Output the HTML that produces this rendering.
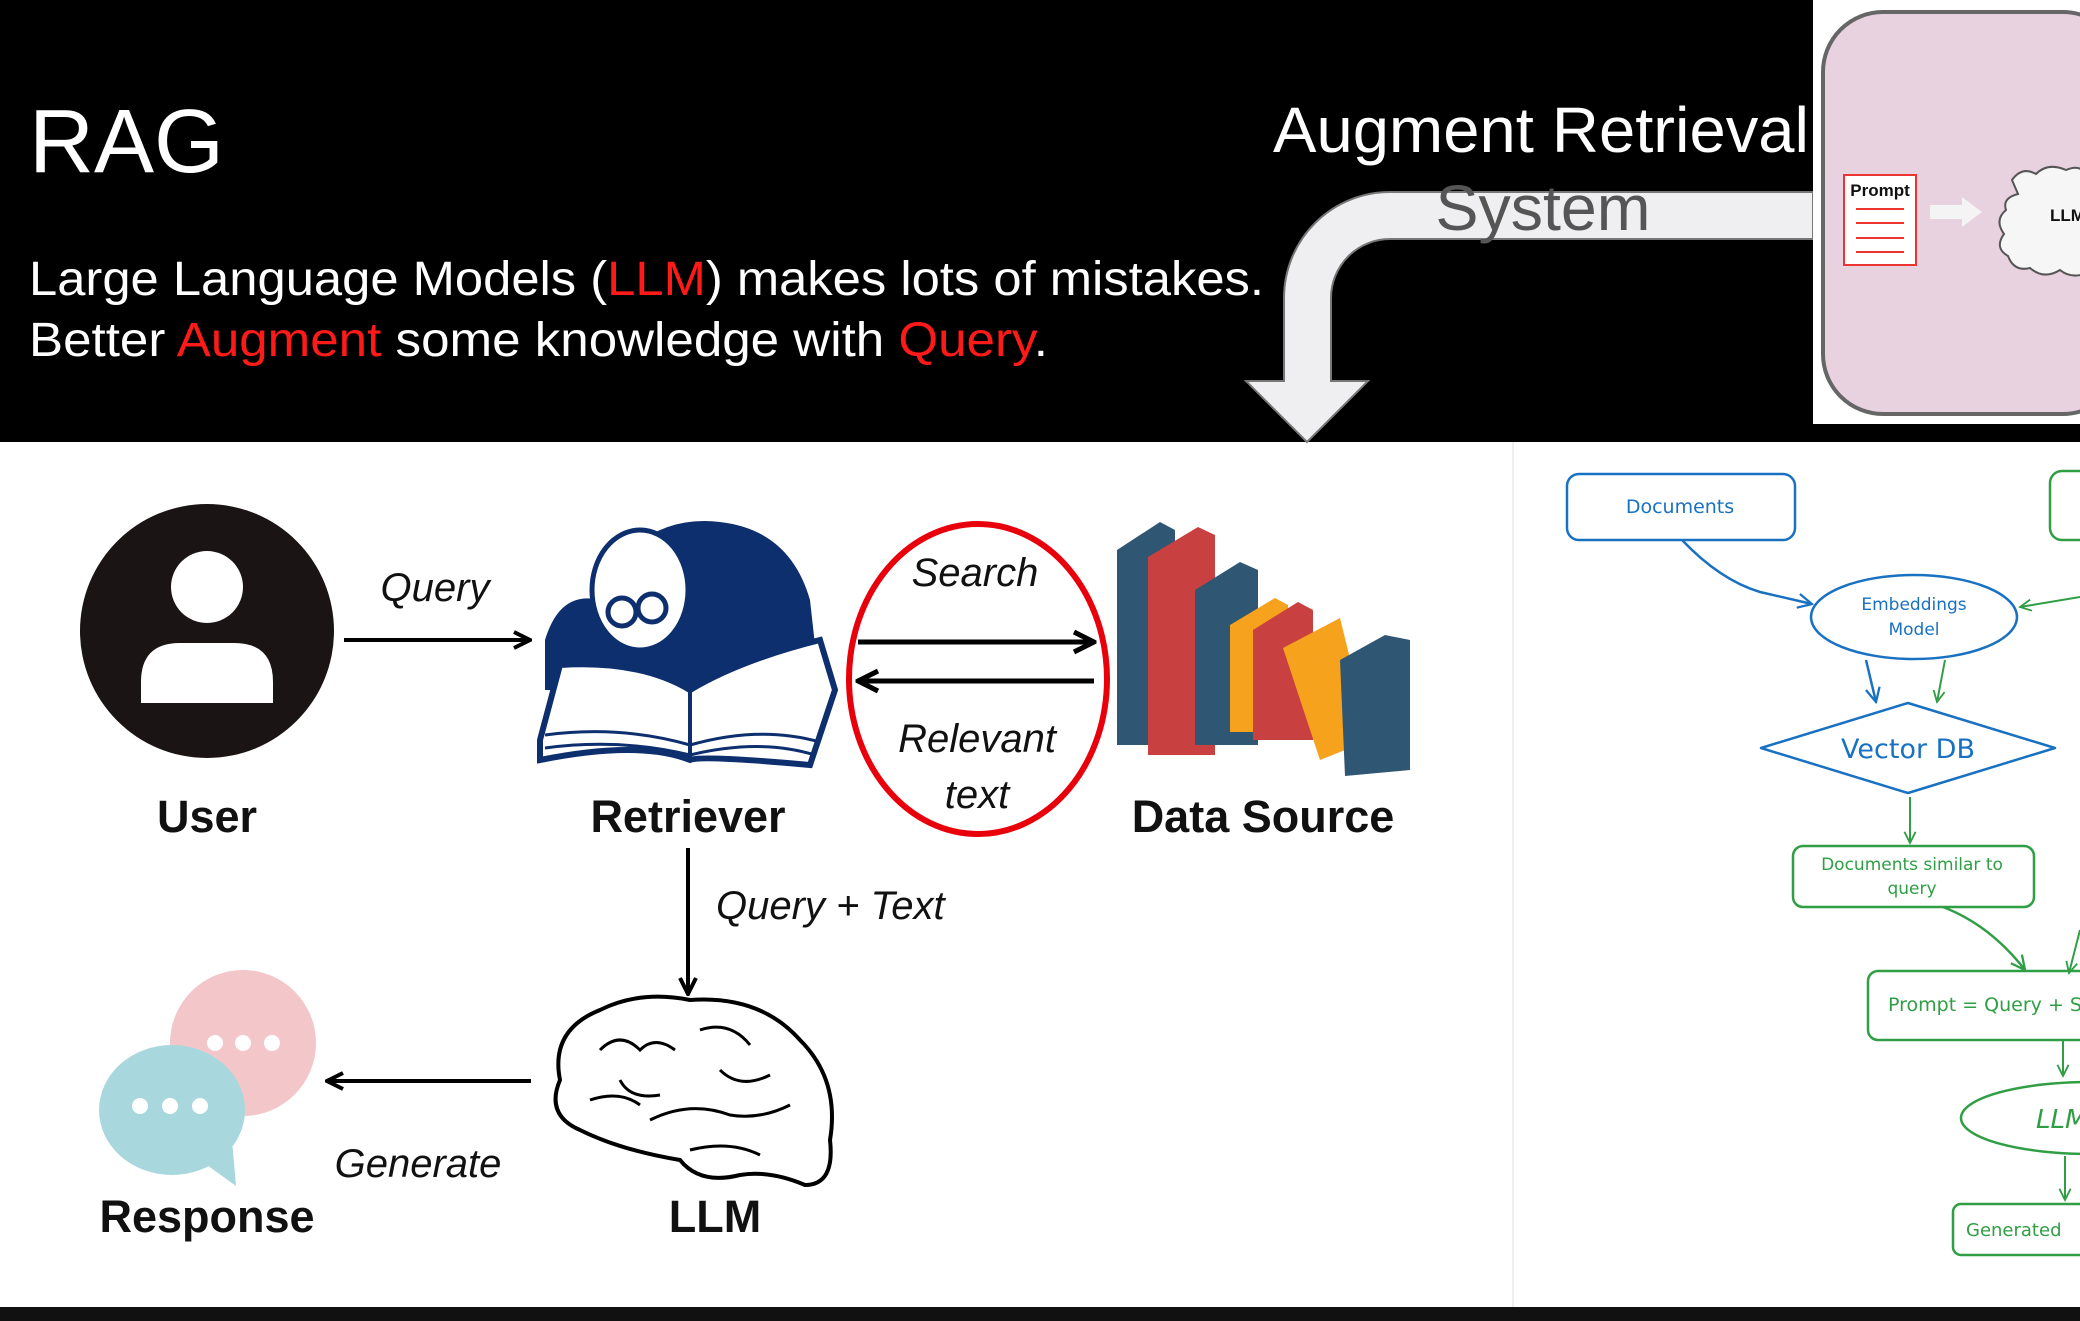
<!DOCTYPE html>
<html><head><meta charset="utf-8"><style>html,body{margin:0;padding:0;background:#fff}svg{display:block}</style></head>
<body>
<svg width="2080" height="1321" viewBox="0 0 2080 1321" xmlns="http://www.w3.org/2000/svg" font-family="Liberation Sans, DejaVu Sans, sans-serif">
<defs>
<marker id="ah" viewBox="0 0 10 10" refX="9" refY="5" markerWidth="5" markerHeight="5" orient="auto"><path d="M1,1 L9,5 L1,9" fill="none" stroke="#000" stroke-width="2"/></marker>
<marker id="bh" viewBox="0 0 10 10" refX="9" refY="5" markerWidth="7" markerHeight="7" orient="auto"><path d="M1,1 L9,5 L1,9" fill="none" stroke="#1971c2" stroke-width="1.3"/></marker>
<marker id="gh" viewBox="0 0 10 10" refX="9" refY="5" markerWidth="7" markerHeight="7" orient="auto"><path d="M1,1 L9,5 L1,9" fill="none" stroke="#2f9e44" stroke-width="1.3"/></marker>
</defs>
<rect x="0" y="0" width="2080" height="442" fill="#000"/>
<rect x="0" y="1307" width="2080" height="14" fill="#111"/>
<line x1="1513" y1="442" x2="1513" y2="1307" stroke="#eee" stroke-width="2"/>

<text x="29" y="172" font-size="90" fill="#fff">RAG</text>
<text x="29" y="295" font-size="48" fill="#fff" textLength="1235" lengthAdjust="spacingAndGlyphs">Large Language Models (<tspan fill="#ff1a1a">LLM</tspan>) makes lots of mistakes.</text>
<text x="29" y="356" font-size="48" fill="#fff" textLength="1019" lengthAdjust="spacingAndGlyphs">Better <tspan fill="#ff1a1a">Augment</tspan> some knowledge with <tspan fill="#ff1a1a">Query</tspan>.</text>

<path d="M1813,192 L1390,192 A106,106 0 0 0 1284,298 L1284,381 L1246,381 L1307,442 L1368,381 L1331,381 L1331,298 A59,59 0 0 1 1390,239 L1813,239 Z" fill="#efeff1" stroke="#777" stroke-width="2"/>
<text x="1273" y="152" font-size="64" fill="#fff" textLength="536" lengthAdjust="spacingAndGlyphs">Augment Retrieval</text>
<text x="1543" y="230" font-size="64" fill="#555" text-anchor="middle" textLength="215" lengthAdjust="spacingAndGlyphs">System</text>

<rect x="1813" y="0" width="267" height="424" fill="#fff"/>
<rect x="1823" y="12" width="300" height="402" rx="60" fill="#e9d2df" stroke="#666" stroke-width="4"/>
<rect x="1844" y="175" width="72" height="90" fill="#fff" stroke="#e33" stroke-width="2"/>
<text x="1880" y="196" font-size="17" font-weight="bold" text-anchor="middle" fill="#111">Prompt</text>
<g stroke="#e33" stroke-width="2"><line x1="1856" y1="209" x2="1904" y2="209"/><line x1="1856" y1="223" x2="1904" y2="223"/><line x1="1856" y1="238" x2="1904" y2="238"/><line x1="1856" y1="252" x2="1904" y2="252"/></g>
<path d="M1930,205 L1962,205 L1962,197 L1982,212 L1962,227 L1962,219 L1930,219 Z" fill="#f4f4f4"/>
<path d="M2012,180 q10,-14 24,-6 q12,-12 30,-4 q14,-6 20,4 L2090,272 q-18,8 -30,-2 q-16,10 -30,-2 q-16,4 -22,-12 q-14,-8 -4,-22 q-10,-14 2,-24 q-4,-12 12,-16 Z" fill="#f6f6f6" stroke="#555" stroke-width="2"/>
<text x="2050" y="221" font-size="17" font-weight="bold" fill="#111">LLM</text>

<circle cx="207" cy="631" r="127" fill="#1a1414"/>
<circle cx="207" cy="587" r="36" fill="#fff"/>
<path d="M141,703 L141,682 Q141,643 180,643 L234,643 Q273,643 273,682 L273,703 Z" fill="#fff"/>
<text x="207" y="832" font-size="45" font-weight="bold" text-anchor="middle" fill="#111">User</text>
<line x1="344" y1="640" x2="530" y2="640" stroke="#000" stroke-width="4" marker-end="url(#ah)"/>
<text x="435" y="601" font-size="40" font-style="italic" text-anchor="middle" fill="#111">Query</text>

<g>
<path d="M620,560 Q660,515 720,522 Q790,530 810,600 L820,690 L600,690 Z" fill="#0d2f6e"/>
<path d="M545,640 Q560,590 600,600 L640,620 L600,690 L545,690 Z" fill="#0d2f6e"/>
<ellipse cx="640" cy="590" rx="48" ry="60" fill="#fff" stroke="#0d2f6e" stroke-width="5"/>
<circle cx="622" cy="612" r="14" fill="#fff" stroke="#0d2f6e" stroke-width="5"/>
<circle cx="652" cy="608" r="14" fill="#fff" stroke="#0d2f6e" stroke-width="5"/>
<path d="M540,740 L560,665 Q640,660 690,690 Q740,660 820,640 L835,690 L810,765 Q700,755 690,760 Q640,740 540,760 Z" fill="#fff" stroke="#0d2f6e" stroke-width="6"/>
<line x1="690" y1="690" x2="690" y2="760" stroke="#0d2f6e" stroke-width="4"/>
<path d="M545,735 Q620,725 690,745 Q760,725 820,742" fill="none" stroke="#0d2f6e" stroke-width="3"/>
<path d="M545,748 Q620,738 690,755 Q760,738 815,755" fill="none" stroke="#0d2f6e" stroke-width="3"/>
</g>
<text x="688" y="832" font-size="45" font-weight="bold" text-anchor="middle" fill="#111">Retriever</text>

<ellipse cx="978" cy="679" rx="129" ry="155" fill="none" stroke="#e8000b" stroke-width="6"/>
<text x="975" y="586" font-size="40" font-style="italic" text-anchor="middle" fill="#111">Search</text>
<line x1="858" y1="642" x2="1094" y2="642" stroke="#000" stroke-width="5" marker-end="url(#ah)"/>
<line x1="1094" y1="681" x2="858" y2="681" stroke="#000" stroke-width="5" marker-end="url(#ah)"/>
<text x="977" y="752" font-size="40" font-style="italic" text-anchor="middle" fill="#111">Relevant</text>
<text x="977" y="808" font-size="40" font-style="italic" text-anchor="middle" fill="#111">text</text>

<g>
<path d="M1117,550 L1160,522 L1175,530 L1175,745 L1117,745 Z" fill="#2f5672"/>
<path d="M1148,557 L1198,527 L1215,535 L1215,755 L1148,755 Z" fill="#c94040"/>
<path d="M1195,590 L1240,562 L1258,570 L1258,745 L1195,745 Z" fill="#2f5672"/>
<path d="M1230,625 L1275,598 L1288,605 L1288,732 L1230,732 Z" fill="#f6a21c"/>
<path d="M1253,630 L1298,602 L1313,610 L1313,740 L1253,740 Z" fill="#c94040"/>
<path d="M1283,648 L1340,618 L1370,740 L1320,760 Z" fill="#f6a21c"/>
<path d="M1340,660 L1385,635 L1410,640 L1410,770 L1345,776 Z" fill="#2f5672"/>
</g>
<text x="1263" y="832" font-size="45" font-weight="bold" text-anchor="middle" fill="#111">Data Source</text>

<line x1="688" y1="848" x2="688" y2="994" stroke="#000" stroke-width="4" marker-end="url(#ah)"/>
<text x="716" y="919" font-size="40" font-style="italic" fill="#111">Query + Text</text>

<g fill="#fff" stroke="#000" stroke-width="4">
<path d="M560,1080 Q550,1030 600,1010 Q640,990 690,1000 Q760,995 800,1040 Q840,1080 830,1140 Q835,1185 805,1185 Q770,1170 740,1175 Q700,1185 680,1160 Q620,1150 580,1130 Q545,1115 560,1080 Z"/>
<path d="M600,1050 q20,-20 40,0 q15,-15 35,0 M700,1030 q30,-10 50,15 M590,1100 q30,-10 50,5 M650,1120 q40,-20 80,-5 q30,5 60,-10 M690,1150 q40,-10 70,5 M720,1070 q20,20 50,5 M620,1080 q10,20 40,15" fill="none" stroke-width="3"/>
</g>
<text x="715" y="1232" font-size="45" font-weight="bold" text-anchor="middle" fill="#111">LLM</text>

<line x1="531" y1="1081" x2="327" y2="1081" stroke="#000" stroke-width="4" marker-end="url(#ah)"/>
<text x="418" y="1177" font-size="40" font-style="italic" text-anchor="middle" fill="#111">Generate</text>

<circle cx="243" cy="1043" r="73" fill="#f3c6c9"/>
<g fill="#fff"><circle cx="215" cy="1043" r="8"/><circle cx="243" cy="1043" r="8"/><circle cx="272" cy="1043" r="8"/></g>
<path d="M200,1160 L236,1186 L232,1140 Z" fill="#a8d8dd"/>
<ellipse cx="172" cy="1110" rx="73" ry="65" fill="#a8d8dd"/>
<g fill="#fff"><circle cx="140" cy="1106" r="8"/><circle cx="170" cy="1106" r="8"/><circle cx="200" cy="1106" r="8"/></g>
<text x="207" y="1232" font-size="45" font-weight="bold" text-anchor="middle" fill="#111">Response</text>

<g font-family="DejaVu Sans, sans-serif" font-size="19">
<rect x="1567" y="474" width="228" height="66" rx="12" fill="none" stroke="#1971c2" stroke-width="2.5"/>
<text x="1680" y="513" text-anchor="middle" fill="#1971c2">Documents</text>
<rect x="2050" y="471" width="60" height="69" rx="12" fill="none" stroke="#2f9e44" stroke-width="2.5"/>
<path d="M1682,540 Q1720,580 1760,592 L1812,604" fill="none" stroke="#1971c2" stroke-width="2.5" marker-end="url(#bh)"/>
<path d="M2080,597 L2020,607" fill="none" stroke="#2f9e44" stroke-width="2" marker-end="url(#gh)"/>
<ellipse cx="1914" cy="617" rx="103" ry="42" fill="none" stroke="#1971c2" stroke-width="2.5"/>
<text x="1914" y="610" text-anchor="middle" fill="#1971c2" font-size="17">Embeddings</text>
<text x="1914" y="635" text-anchor="middle" fill="#1971c2" font-size="17">Model</text>
<line x1="1866" y1="660" x2="1876" y2="702" stroke="#1971c2" stroke-width="2.5" marker-end="url(#bh)"/>
<line x1="1945" y1="660" x2="1937" y2="702" stroke="#2f9e44" stroke-width="2" marker-end="url(#gh)"/>
<path d="M1761,748 L1908,703 L2055,748 L1908,793 Z" fill="none" stroke="#1971c2" stroke-width="2.5" stroke-linejoin="round"/>
<text x="1908" y="758" text-anchor="middle" fill="#1971c2" font-size="27">Vector DB</text>
<line x1="1910" y1="797" x2="1910" y2="843" stroke="#2f9e44" stroke-width="2" marker-end="url(#gh)"/>
<rect x="1793" y="846" width="241" height="61" rx="10" fill="none" stroke="#2f9e44" stroke-width="2.5"/>
<text x="1912" y="870" text-anchor="middle" fill="#2f9e44" font-size="17">Documents similar to</text>
<text x="1912" y="894" text-anchor="middle" fill="#2f9e44" font-size="17">query</text>
<path d="M1943,907 Q1990,925 2025,970" fill="none" stroke="#2f9e44" stroke-width="2.5" marker-end="url(#gh)"/>
<line x1="2080" y1="930" x2="2069" y2="973" stroke="#2f9e44" stroke-width="2" marker-end="url(#gh)"/>
<rect x="1868" y="971" width="240" height="69" rx="10" fill="none" stroke="#2f9e44" stroke-width="2.5"/>
<text x="1888" y="1011" fill="#2f9e44" font-size="19">Prompt = Query + S</text>
<line x1="2063" y1="1041" x2="2063" y2="1076" stroke="#2f9e44" stroke-width="2" marker-end="url(#gh)"/>
<ellipse cx="2090" cy="1118" rx="129" ry="36" fill="none" stroke="#2f9e44" stroke-width="2.5"/>
<text x="2036" y="1128" fill="#2f9e44" font-size="26" font-style="italic">LLM</text>
<line x1="2065" y1="1156" x2="2065" y2="1200" stroke="#2f9e44" stroke-width="2" marker-end="url(#gh)"/>
<rect x="1953" y="1204" width="160" height="51" rx="8" fill="none" stroke="#2f9e44" stroke-width="2.5"/>
<text x="1966" y="1236" fill="#2f9e44" font-size="18">Generated</text>
</g>
</svg>
</body></html>
